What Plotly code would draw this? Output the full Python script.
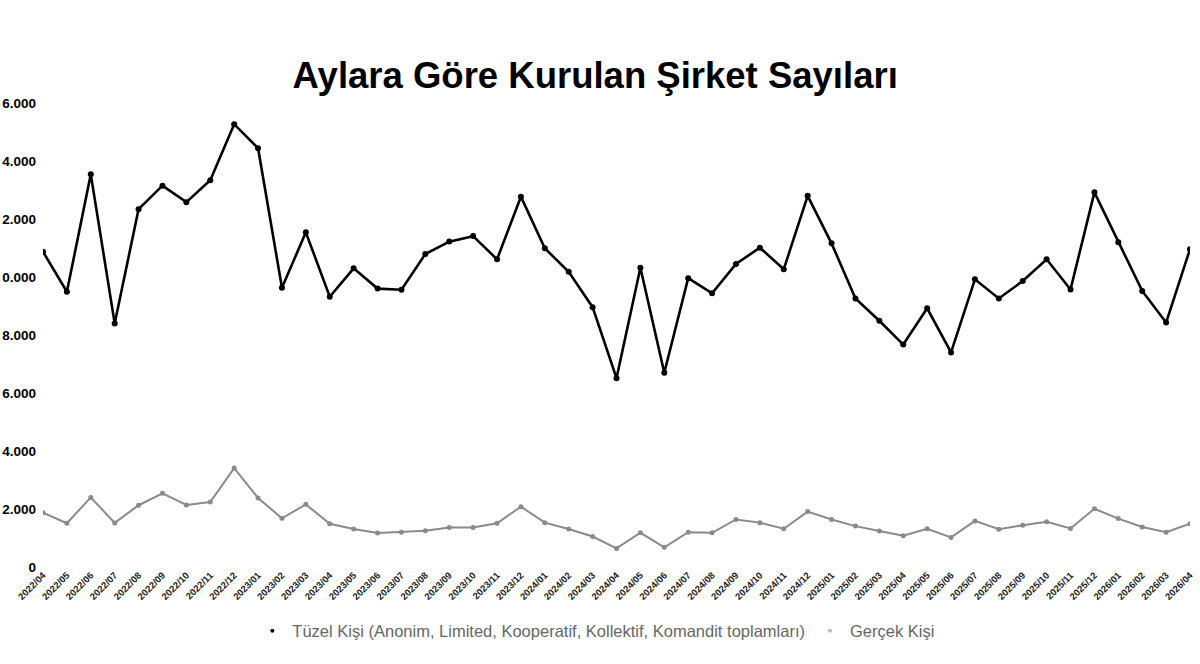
import plotly.graph_objects as go

months = [
    "2022/04", "2022/05", "2022/06", "2022/07", "2022/08", "2022/09", "2022/10", "2022/11", "2022/12",
    "2023/01", "2023/02", "2023/03", "2023/04", "2023/05", "2023/06", "2023/07", "2023/08", "2023/09",
    "2023/10", "2023/11", "2023/12",
    "2024/01", "2024/02", "2024/03", "2024/04", "2024/05", "2024/06", "2024/07", "2024/08", "2024/09",
    "2024/10", "2024/11", "2024/12",
    "2025/01", "2025/02", "2025/03", "2025/04", "2025/05", "2025/06", "2025/07", "2025/08", "2025/09",
    "2025/10", "2025/11", "2025/12",
    "2026/01", "2026/02", "2026/03", "2026/04",
]

tuzel = [
    10870, 9490, 13540, 8400, 12340, 13150, 12580, 13340, 15270,
    14440, 9630, 11540, 9320, 10300, 9600, 9560, 10790, 11220,
    11410, 10610, 12770,
    10990, 10180, 8960, 6510, 10320, 6700, 9960, 9440, 10450,
    11010, 10270, 12800,
    11160, 9260, 8490, 7670, 8920, 7400, 9920, 9260, 9860,
    10610, 9570, 12920,
    11200, 9520, 8430, 10960,
]

gercek = [
    1870, 1510, 2400, 1520, 2130, 2540, 2140, 2240, 3410,
    2380, 1680, 2160, 1490, 1310, 1170, 1200, 1250, 1360,
    1360, 1510, 2080,
    1530, 1310, 1050, 640, 1180, 680, 1200, 1180, 1640,
    1530, 1320, 1910,
    1640, 1410, 1240, 1080, 1320, 1020, 1590, 1300, 1440,
    1560, 1330, 2010,
    1670, 1380, 1200, 1490,
]

y_tick_vals = [0, 2000, 4000, 6000, 8000, 10000, 12000, 14000, 16000]
y_tick_text = ["0", "2.000", "4.000", "6.000", "8.000", "0.000", "2.000", "4.000", "6.000"]

name_tuzel = "Tüzel Kişi (Anonim, Limited, Kooperatif, Kollektif, Komandit toplamları)"
name_gercek = "Gerçek Kişi"

BLACK = "#000000"
GRAY = "#8a8a8a"

fig = go.Figure()

fig.add_trace(go.Scatter(
    x=months, y=tuzel, mode="lines+markers", name=name_tuzel, showlegend=False,
    line=dict(color=BLACK, width=2.6),
    marker=dict(color=BLACK, size=6),
))
fig.add_trace(go.Scatter(
    x=months, y=gercek, mode="lines+markers", name=name_gercek, showlegend=False,
    line=dict(color=GRAY, width=2),
    marker=dict(color=GRAY, size=5),
))
# legend-only entries (dot symbols as in the reference)
fig.add_trace(go.Scatter(
    x=[None], y=[None], mode="markers", name=name_tuzel,
    marker=dict(color=BLACK, size=4),
))
fig.add_trace(go.Scatter(
    x=[None], y=[None], mode="markers", name=name_gercek,
    marker=dict(color="#bbbbbb", size=4),
))

fig.update_layout(
    width=1200, height=664,
    paper_bgcolor="white", plot_bgcolor="white",
    margin=dict(l=43, r=10, t=103, b=97),
    title=dict(
        text="Aylara Göre Kurulan Şirket Sayıları",
        x=0.496, xanchor="center", y=0.887, yanchor="middle",
        font=dict(family="Liberation Sans, Arial", size=36.5, color="#000000", weight="bold"),
    ),
    showlegend=True,
    legend=dict(
        orientation="h", x=0.482, xanchor="center", y=-0.1, yanchor="top",
        font=dict(family="Liberation Sans, Arial", size=16.5, color="#666666"),
        itemwidth=30,
    ),
    xaxis=dict(
        type="category", range=[0, len(months) - 1],
        showgrid=False, zeroline=False, showline=False,
        tickangle=-45, ticks="",
        tickfont=dict(family="Liberation Sans, Arial", size=9.5, color="#222222", weight="bold"),
        automargin=False,
    ),
    yaxis=dict(
        range=[0, 16000], tickvals=y_tick_vals, ticktext=y_tick_text,
        showgrid=False, zeroline=False, showline=False, ticks="",
        tickfont=dict(family="Liberation Sans, Arial", size=13.5, color="#000000", weight="bold"),
        automargin=False, ticklabelstandoff=6,
    ),
)

fig.write_html(
    "out.html",
    config={"displayModeBar": False},
    post_script="document.body.style.margin='0';",
)
